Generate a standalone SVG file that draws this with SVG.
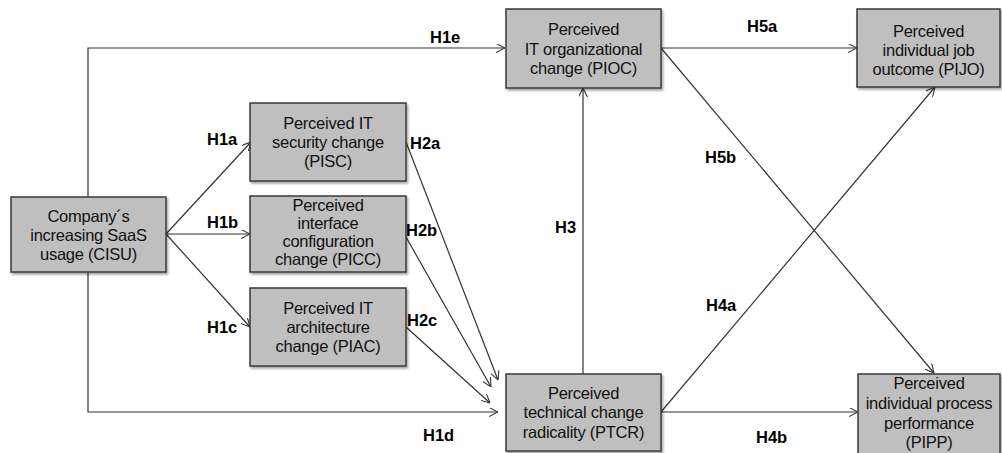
<svg xmlns="http://www.w3.org/2000/svg" width="1002" height="453" viewBox="0 0 1002 453">
<defs>
<filter id="sh" x="-10%" y="-10%" width="120%" height="130%">
<feDropShadow dx="1.5" dy="2" stdDeviation="1.2" flood-color="#000" flood-opacity="0.35"/>
</filter>
<marker id="ah" viewBox="0 0 10 10" refX="10" refY="5" markerWidth="9" markerHeight="9" markerUnits="userSpaceOnUse" orient="auto">
<path d="M0,0 L10,5 L0,10" fill="none" stroke="#333" stroke-width="1.2"/>
</marker>
<style>
.box{fill:#bfbfbf;stroke:#3a3a3a;stroke-width:1.5;filter:url(#sh)}
.t{font-family:"Liberation Sans",Arial,sans-serif;font-size:16.5px;fill:#111;text-anchor:middle;letter-spacing:-0.25px}
.lb{font-family:"Liberation Sans",Arial,sans-serif;font-size:16.5px;font-weight:bold;fill:#000}
.c{fill:none;stroke:#333;stroke-width:1.2}
.a{marker-end:url(#ah)}
</style>
</defs>
<rect width="1002" height="453" fill="#fff"/>
<g id="connectors">
<path class="c a" d="M88,197 V48 H505"/>
<path class="c a" d="M88,272 V412 H498"/>
<path class="c a" d="M166,234 L251,142"/>
<path class="c a" d="M166,234 L250,234"/>
<path class="c a" d="M166,234 L250,327"/>
<path class="c a" d="M406,142 L498,380"/>
<path class="c a" d="M406,237 L491,387"/>
<path class="c a" d="M406,327 L490,403"/>
<path class="c a" d="M583,374 L583,88"/>
<path class="c a" d="M661,48 L857,48"/>
<path class="c a" d="M661,48 L934,373"/>
<path class="c a" d="M661,412 L935,87"/>
<path class="c a" d="M661,412 L858,412"/>
</g>
<g id="labels">
<text class="lb" x="430" y="43">H1e</text>
<text class="lb" x="747" y="32">H5a</text>
<text class="lb" x="705" y="163">H5b</text>
<text class="lb" x="207" y="145">H1a</text>
<text class="lb" x="207" y="228">H1b</text>
<text class="lb" x="207" y="333">H1c</text>
<text class="lb" x="410" y="149">H2a</text>
<text class="lb" x="406" y="236">H2b</text>
<text class="lb" x="407" y="326">H2c</text>
<text class="lb" x="555" y="233">H3</text>
<text class="lb" x="706" y="311">H4a</text>
<text class="lb" x="756" y="443">H4b</text>
<text class="lb" x="423" y="441">H1d</text>
</g>
<g id="CISU">
<rect class="box" x="11" y="197" width="155" height="75"/>
<text class="t" x="88.5" y="222">Company´s</text>
<text class="t" x="88.5" y="241">increasing SaaS</text>
<text class="t" x="88.5" y="260">usage (CISU)</text>
</g>
<g id="PISC">
<rect class="box" x="250" y="103" width="156" height="78"/>
<text class="t" x="328" y="129">Perceived IT</text>
<text class="t" x="328" y="148">security change</text>
<text class="t" x="328" y="167">(PISC)</text>
</g>
<g id="PICC">
<rect class="box" x="250" y="196" width="156" height="76"/>
<text class="t" x="328" y="211">Perceived</text>
<text class="t" x="328" y="229">interface</text>
<text class="t" x="328" y="247">configuration</text>
<text class="t" x="328" y="265">change (PICC)</text>
</g>
<g id="PIAC">
<rect class="box" x="250" y="288" width="156" height="78"/>
<text class="t" x="328" y="314">Perceived IT</text>
<text class="t" x="328" y="333">architecture</text>
<text class="t" x="328" y="352">change (PIAC)</text>
</g>
<g id="PIOC">
<rect class="box" x="506" y="9" width="155" height="79"/>
<text class="t" x="583.5" y="35">Perceived</text>
<text class="t" x="583.5" y="55">IT organizational</text>
<text class="t" x="583.5" y="74">change (PIOC)</text>
</g>
<g id="PIJO">
<rect class="box" x="857" y="9" width="143" height="78"/>
<text class="t" x="928.5" y="37">Perceived</text>
<text class="t" x="928.5" y="56">individual job</text>
<text class="t" x="928.5" y="75">outcome (PIJO)</text>
</g>
<g id="PTCR">
<rect class="box" x="506" y="374" width="155" height="77"/>
<text class="t" x="583.5" y="399">Perceived</text>
<text class="t" x="583.5" y="418">technical change</text>
<text class="t" x="583.5" y="438">radicality (PTCR)</text>
</g>
<g id="PIPP">
<rect class="box" x="858" y="374" width="142" height="80"/>
<text class="t" x="929" y="389">Perceived</text>
<text class="t" x="929" y="409">individual process</text>
<text class="t" x="929" y="429">performance</text>
<text class="t" x="929" y="448">(PIPP)</text>
</g>
</svg>
